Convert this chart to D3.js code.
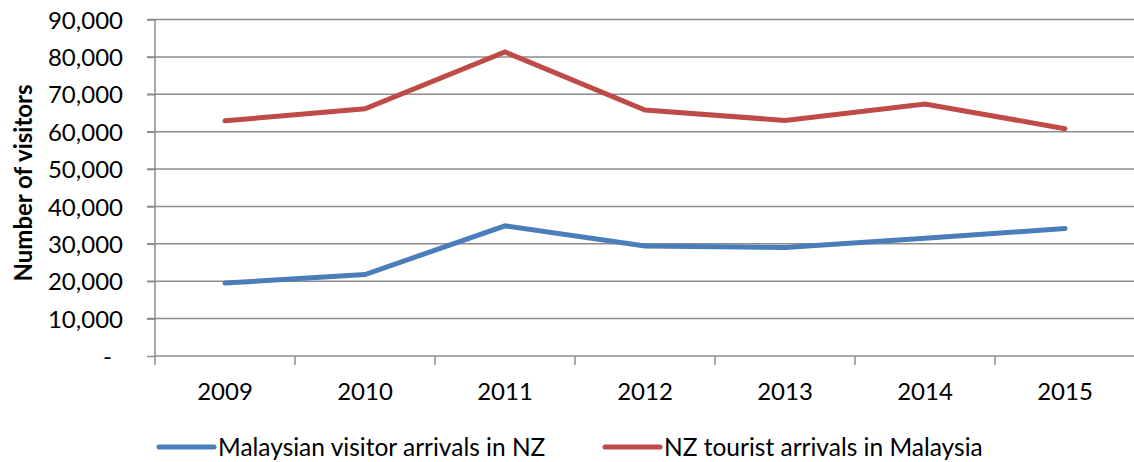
<!DOCTYPE html>
<html>
<head>
  <meta charset="utf-8">
  <script src="https://d3js.org/d3.v7.min.js"></script>
  <style>
    body { margin: 0; background: #fff; }
    text { font-family: Lato, "Open Sans", sans-serif; fill: #000; }
  </style>
</head>
<body>
<script>
  // chart data
  var years = ["2009", "2010", "2011", "2012", "2013", "2014", "2015"];
  var malaysianInNZ = [19500, 21800, 34800, 29400, 29000, 31500, 34100];
  var nzInMalaysia = [62900, 66100, 81300, 65800, 63000, 67400, 60800];
  var yTicks = [0, 10000, 20000, 30000, 40000, 50000, 60000, 70000, 80000, 90000];
  var seriesNames = ["Malaysian visitor arrivals in NZ", "NZ tourist arrivals in Malaysia"];
  var seriesColors = ["#4A7EBB", "#BE4B48"];

  var width = 1134, height = 462;
  var svg = d3.select("body").append("svg")
    .attr("width", width)
    .attr("height", height);

  var x = d3.scaleBand().domain(years).range([155, 1135]);
  var y = d3.scaleLinear().domain([0, 90000]).range([356, 19.5]);

  // gridlines
  svg.append("g").selectAll("line")
    .data(yTicks.filter(function(d) { return d > 0; }))
    .enter().append("line")
    .attr("x1", 147).attr("x2", width)
    .attr("y1", function(d) { return y(d); })
    .attr("y2", function(d) { return y(d); })
    .attr("stroke", "#8c8c8c")
    .attr("stroke-width", 1.5);

  // y axis
  var yAxis = svg.append("g")
    .attr("transform", "translate(155,0)")
    .call(d3.axisLeft(y).tickValues(yTicks).tickSize(8)
      .tickFormat(function(d) { return d === 0 ? "-" : d3.format(",")(d); }));
  yAxis.select(".domain").attr("stroke", "#8c8c8c").attr("stroke-width", 1.5)
    .attr("d", "M0,19.5V365");
  yAxis.selectAll(".tick line").attr("stroke", "#8c8c8c").attr("stroke-width", 1.5);
  yAxis.selectAll(".tick text")
    .style("font-size", "24px")
    .attr("fill", "#000")
    .attr("dy", "0.36em")
    .attr("x", function(d) { return d === 0 ? -43 : -32; });

  // x axis
  var xAxis = svg.append("g")
    .attr("transform", "translate(0,356)")
    .call(d3.axisBottom(x).tickSize(0).tickPadding(35));
  xAxis.select(".domain").attr("stroke", "#8c8c8c").attr("stroke-width", 1.5)
    .attr("d", "M155,0H" + width);
  xAxis.selectAll(".tick text").style("font-size", "24px").attr("fill", "#000").attr("dy", "0.36em");
  svg.append("g").selectAll("line")
    .data(years.slice(1).concat(["end"]))
    .enter().append("line")
    .attr("x1", function(d, i) { return x.range()[0] + (i + 1) * x.bandwidth(); })
    .attr("x2", function(d, i) { return x.range()[0] + (i + 1) * x.bandwidth(); })
    .attr("y1", 356).attr("y2", 365)
    .attr("stroke", "#8c8c8c").attr("stroke-width", 1.5);

  // y axis title
  svg.append("text")
    .attr("transform", "translate(32,183) rotate(-90)")
    .attr("text-anchor", "middle")
    .style("font-size", "24px")
    .style("font-weight", "bold")
    .text("Number of visitors");

  // lines
  var line = d3.line()
    .x(function(d, i) { return x(years[i]) + x.bandwidth() / 2; })
    .y(function(d) { return y(d); });

  [malaysianInNZ, nzInMalaysia].forEach(function(s, k) {
    svg.append("path")
      .datum(s)
      .attr("d", line)
      .attr("fill", "none")
      .attr("stroke", seriesColors[k])
      .attr("stroke-width", 5)
      .attr("stroke-linecap", "round")
      .attr("stroke-linejoin", "miter");
  });

  // legend
  var legendX = [159, 605];
  var legend = svg.append("g").selectAll("g")
    .data(seriesNames)
    .enter().append("g")
    .attr("transform", function(d, i) { return "translate(" + legendX[i] + ",447)"; });
  legend.append("line")
    .attr("x1", 0).attr("x2", 55)
    .attr("stroke", function(d, i) { return seriesColors[i]; })
    .attr("stroke-width", 5)
    .attr("stroke-linecap", "round");
  legend.append("text")
    .attr("x", 59)
    .attr("dy", "0.36em")
    .style("font-size", "24.5px")
    .text(function(d) { return d; });
</script>
</body>
</html>
